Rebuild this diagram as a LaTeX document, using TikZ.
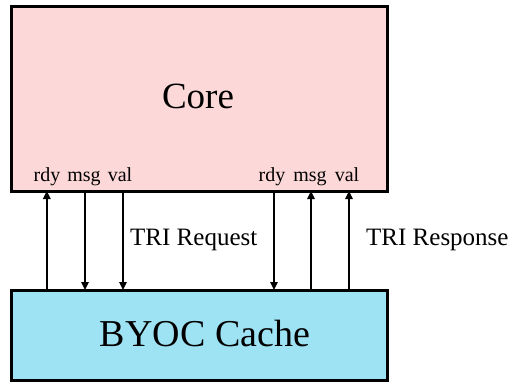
\documentclass[tikz,border=0pt]{standalone}
\usepackage{fontspec}
\setmainfont{Liberation Serif}
\usetikzlibrary{arrows.meta}
\definecolor{corefill}{HTML}{FDD8D8}
\definecolor{cachefill}{HTML}{9EE3F3}
\begin{document}
\begin{tikzpicture}[x=1pt,y=-1pt,
  blockbox/.style={draw=black,line width=3pt},
  sig/.style={line width=1.5pt,-{Triangle[length=8pt,width=7.5pt]}},
  portlbl/.style={font=\fontsize{20}{22}\selectfont,inner sep=0pt,anchor=base},
  trilbl/.style={font=\fontsize{25}{28}\selectfont,inner sep=0pt,anchor=west}]
\useasboundingbox (0,0) rectangle (511,384);
\draw[blockbox,fill=corefill] (11,6) rectangle (387,191);
\draw[blockbox,fill=cachefill] (11,290) rectangle (387,380);
\node[font=\fontsize{37}{40}\selectfont,inner sep=0pt,anchor=base] (core) at (198,108) {Core};
\node[font=\fontsize{38}{42}\selectfont,inner sep=0pt,anchor=base] (cache) at (205,346) {BYOC Cache};
% port coordinates
\coordinate (c1) at (46.8,191); \coordinate (k1) at (46.8,290);
\coordinate (c2) at (85,191);   \coordinate (k2) at (85,290);
\coordinate (c3) at (123,191);  \coordinate (k3) at (123,290);
\coordinate (c4) at (274,191);  \coordinate (k4) at (274,290);
\coordinate (c5) at (311,191);  \coordinate (k5) at (311,290);
\coordinate (c6) at (349,191);  \coordinate (k6) at (349,290);
\node[portlbl] (l1) at (47,181) {rdy};
\node[portlbl] (l2) at (84,181) {msg};
\node[portlbl] (l3) at (120,181) {val};
\node[portlbl] (l4) at (272,181) {rdy};
\node[portlbl] (l5) at (310,181) {msg};
\node[portlbl] (l6) at (347,181) {val};
\draw[sig] (k1) -- (c1);
\draw[sig] (c2) -- (k2);
\draw[sig] (c3) -- (k3);
\draw[sig] (c4) -- (k4);
\draw[sig] (k5) -- (c5);
\draw[sig] (k6) -- (c6);
\node[trilbl] (req) at (130,240) {TRI Request};
\node[trilbl] (resp) at (366,240) {TRI Response};
\end{tikzpicture}
\end{document}
